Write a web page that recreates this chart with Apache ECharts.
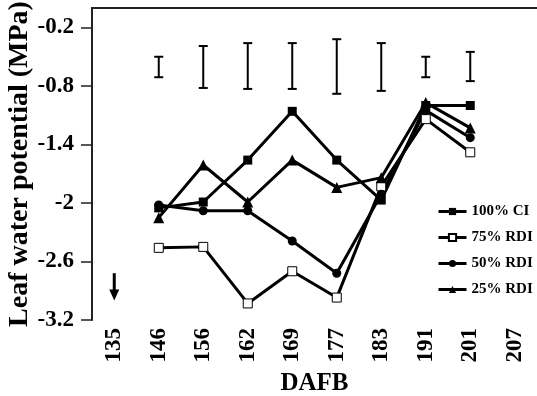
<!DOCTYPE html>
<html>
<head>
<meta charset="utf-8">
<script src="https://cdn.jsdelivr.net/npm/echarts@6/dist/echarts.min.js"></script>
<style>html,body{margin:0;padding:0;background:#fff}#c{width:537px;height:396px}</style>
</head>
<body>
<div id="c"></div>
<script>
var categories = ['135','146','156','162','169','177','183','191','201','207'];
var ci100 = [null, -2.05, -1.99, -1.56, -1.06, -1.56, -1.97, -1.00, -1.00, null];
var rdi75 = [null, -2.46, -2.45, -3.03, -2.70, -2.97, -1.83, -1.14, -1.48, null];
var rdi50 = [null, -2.02, -2.08, -2.08, -2.39, -2.72, -1.91, -1.05, -1.33, null];
var rdi25 = [null, -2.15, -1.61, -1.99, -1.56, -1.84, -1.74, -0.97, -1.23, null];
var errLow  = [null, -0.71, -0.82, -0.83, -0.83, -0.88, -0.85, -0.71, -0.75, null];
var errHigh = [null, -0.50, -0.39, -0.36, -0.36, -0.32, -0.36, -0.50, -0.45, null];
var yTicks = [-3.2, -2.6, -2, -1.4, -0.8, -0.2];
var arrowCat = '135';
var arrowTop = -2.72;
var arrowBottom = -3.0;

var FONT = "'Liberation Serif', 'Times New Roman', serif";

var errData = [];
for (var i = 0; i < categories.length; i++) {
  if (errLow[i] != null) errData.push([i, errLow[i], errHigh[i]]);
}

var chart = echarts.init(document.getElementById('c'));
function lineSeries(name, data, symbol, size, fill) {
  return {
    name: name, type: 'line', data: data, symbol: symbol, symbolSize: size,
    showAllSymbol: true, connectNulls: false,
    lineStyle: {color: '#000', width: 3},
    itemStyle: {color: fill, borderColor: '#000', borderWidth: fill === '#fff' ? 1 : 0},
    z: 3
  };
}
chart.setOption({
  animation: false,
  grid: {left: 92, right: 0, top: 8, bottom: 76, containLabel: false, outerBoundsMode: 'none'},
  legend: {
    orient: 'vertical', left: 437, top: 204, padding: 0, itemWidth: 28, itemHeight: 9, itemGap: 11,
    lineStyle: {width: 3, color: '#000'},
    textStyle: {fontFamily: FONT, fontWeight: 'bold', fontSize: 15, color: '#000'},
    data: ['100% CI', '75% RDI', '50% RDI', '25% RDI']
  },
  xAxis: [{
    type: 'category', data: categories, boundaryGap: true,
    name: 'DAFB', nameLocation: 'middle', nameGap: 51, nameMoveOverlap: false,
    nameTextStyle: {fontFamily: FONT, fontWeight: 'bold', fontSize: 25, color: '#000'},
    axisLine: {lineStyle: {color: '#222', width: 2}},
    axisTick: {show: false},
    axisLabel: {rotate: 90, interval: 0, margin: 8, fontFamily: FONT, fontWeight: 'bold', fontSize: 23, color: '#000'},
    splitLine: {show: false}
  }, {
    type: 'category', data: categories, position: 'top',
    axisLine: {lineStyle: {color: '#222', width: 2}},
    axisTick: {show: false}, axisLabel: {show: false}, splitLine: {show: false}
  }],
  yAxis: {
    type: 'value', min: -3.2, max: 0,
    name: 'Leaf water potential (MPa)', nameLocation: 'middle', nameGap: 58, nameRotate: 90, nameMoveOverlap: false,
    nameTextStyle: {fontFamily: FONT, fontWeight: 'bold', fontSize: 28, color: '#000'},
    axisLine: {show: true, lineStyle: {color: '#222', width: 2}},
    axisTick: {show: true, inside: false, length: 11, lineStyle: {color: '#222', width: 1.5}, customValues: yTicks},
    axisLabel: {customValues: yTicks, margin: 18, fontFamily: FONT, fontWeight: 'bold', fontSize: 23, color: '#000',
      formatter: function (v) { return String(Math.round(v * 10) / 10); }},
    splitLine: {show: false}
  },
  series: [
    lineSeries('100% CI', ci100, 'rect', 9, '#000'),
    lineSeries('75% RDI', rdi75, 'rect', 9, '#fff'),
    lineSeries('50% RDI', rdi50, 'circle', 9, '#000'),
    lineSeries('25% RDI', rdi25, 'triangle', 11, '#000'),
    {
      type: 'custom', name: 'err', data: errData, z: 2,
      renderItem: function (params, api) {
        var x = api.value(0);
        var lo = api.coord([x, api.value(1)]);
        var hi = api.coord([x, api.value(2)]);
        var w = 4.5;
        var st = {stroke: '#000', lineWidth: 2};
        return {type: 'group', children: [
          {type: 'line', shape: {x1: lo[0], y1: lo[1], x2: hi[0], y2: hi[1]}, style: st},
          {type: 'line', shape: {x1: lo[0] - w, y1: lo[1], x2: lo[0] + w, y2: lo[1]}, style: st},
          {type: 'line', shape: {x1: hi[0] - w, y1: hi[1], x2: hi[0] + w, y2: hi[1]}, style: st}
        ]};
      }
    },
    {
      type: 'custom', name: 'arrow', data: [[arrowCat, arrowTop, arrowBottom]], z: 2,
      renderItem: function (params, api) {
        var x = api.value(0);
        var t = api.coord([x, api.value(1)]);
        var b = api.coord([x, api.value(2)]);
        var hw = 5, hh = 11;
        return {type: 'group', children: [
          {type: 'line', shape: {x1: t[0], y1: t[1], x2: b[0], y2: b[1] - hh + 1}, style: {stroke: '#000', lineWidth: 3}},
          {type: 'polygon', shape: {points: [[b[0] - hw, b[1] - hh], [b[0] + hw, b[1] - hh], [b[0], b[1]]]}, style: {fill: '#000'}}
        ]};
      }
    }
  ]
});
</script>
</body>
</html>
